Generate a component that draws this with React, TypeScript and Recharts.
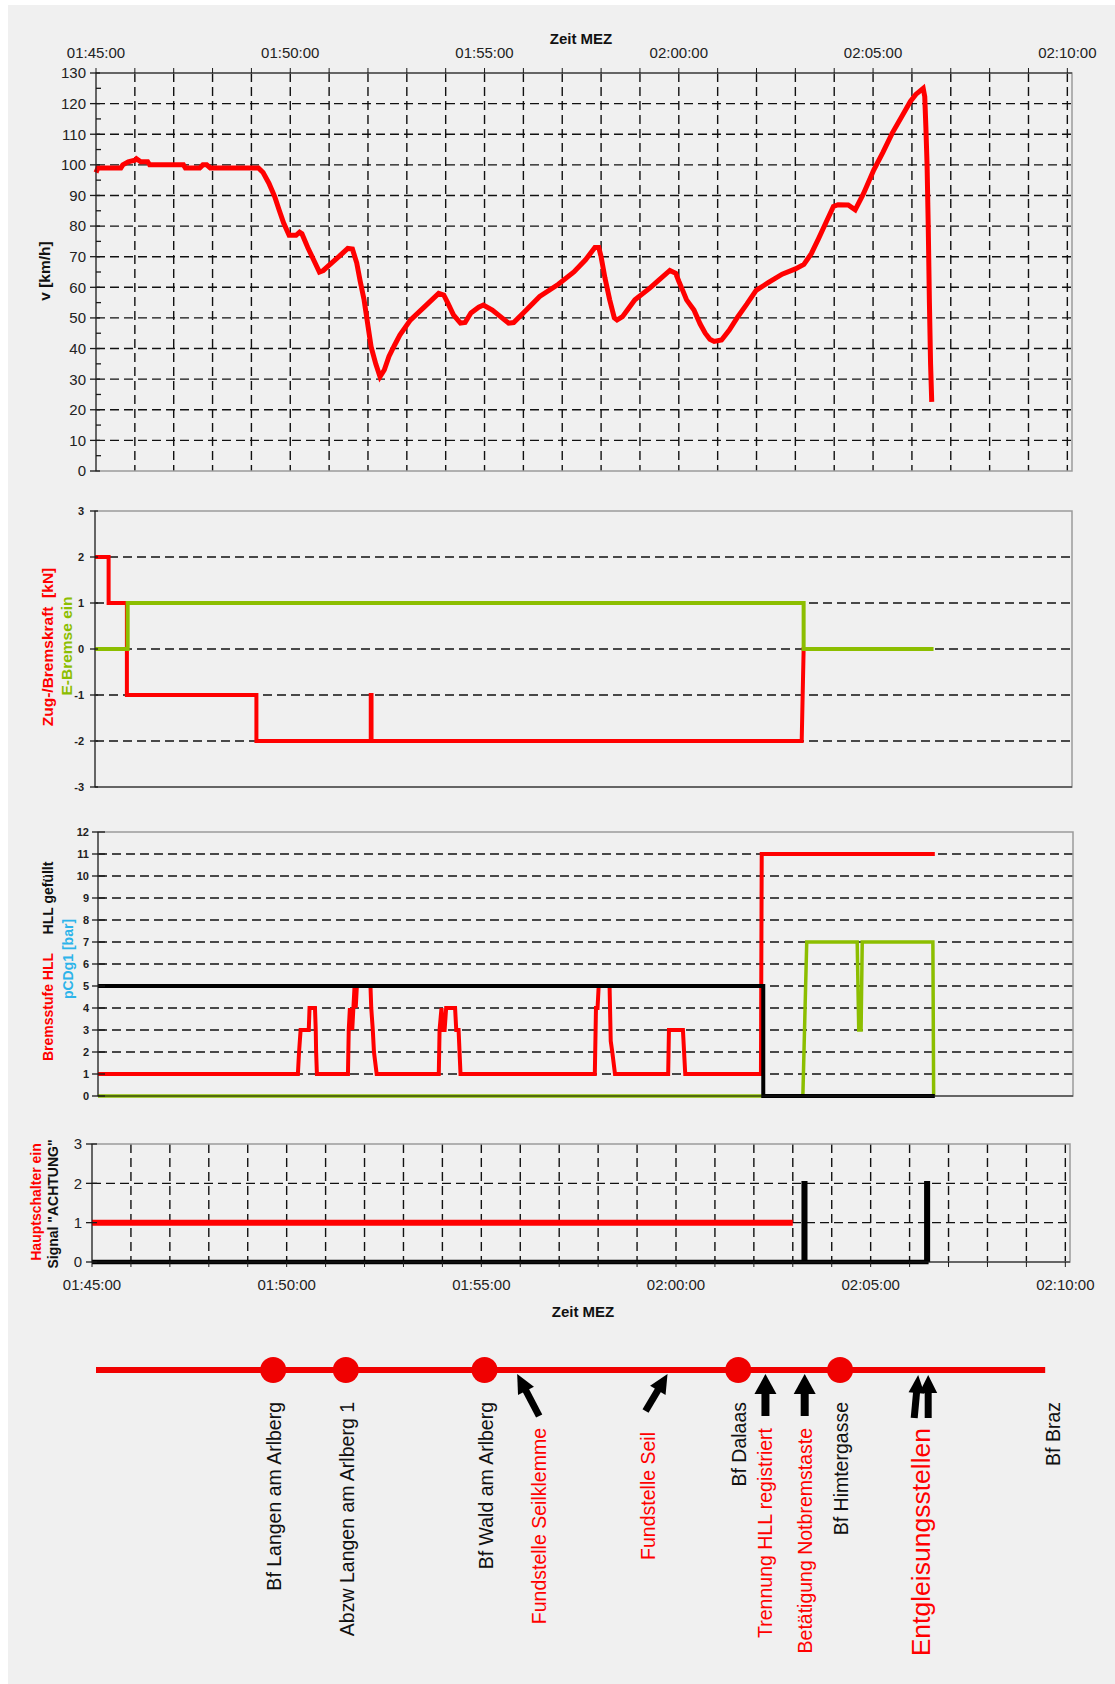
import React from 'react';
import {
  LineChart,
  Line,
  XAxis,
  YAxis,
  CartesianGrid,
  ReferenceArea,
  ComposedChart,
  Scatter,
} from 'recharts';

const FONT = "'Liberation Sans', Arial, Helvetica, sans-serif";
const RED = '#ff0000';
const ROUTE_RED = '#f00000';
const GREEN = '#8cbe00';
const CYAN = '#2db4ea';
const INK = '#1a1a1a';
const X_END = 25.12; // minutes after 01:45:00

// axes
const minuteTicks = [0, 1, 2, 3, 4, 5, 6, 7, 8, 9, 10, 11, 12, 13, 14, 15, 16, 17, 18, 19, 20, 21, 22, 23, 24, 25];
const minuteGrid = [1, 2, 3, 4, 5, 6, 7, 8, 9, 10, 11, 12, 13, 14, 15, 16, 17, 18, 19, 20, 21, 22, 23, 24, 25];
const timeLabels = ['01:45:00', '01:50:00', '01:55:00', '02:00:00', '02:05:00', '02:10:00'];
const speedTicks = [0, 5, 10, 15, 20, 25, 30, 35, 40, 45, 50, 55, 60, 65, 70, 75, 80, 85, 90, 95, 100, 105, 110, 115, 120, 125, 130];
const speedGrid = [10, 20, 30, 40, 50, 60, 70, 80, 90, 100, 110, 120];
const forceTicks = [-3, -2, -1, 0, 1, 2, 3];
const forceGrid = [-2, -1, 0, 1, 2];
const brakeTicks = [0, 1, 2, 3, 4, 5, 6, 7, 8, 9, 10, 11, 12];
const brakeGrid = [1, 2, 3, 4, 5, 6, 7, 8, 9, 10, 11];
const switchTicks = [0, 1, 2, 3];
const switchGrid = [1, 2];

// v [km/h]  (t in minutes after 01:45:00, value)
const speed = [
  [0, 97.5], [0.05, 99], [0.64, 99], [0.69, 100], [0.83, 101], [1.0, 101.5], [1.04, 102], [1.15, 101],
  [1.33, 101], [1.38, 100], [2.25, 100], [2.3, 99], [2.67, 99], [2.75, 100], [2.85, 100], [2.94, 99],
  [4.18, 99], [4.3, 97.5], [4.45, 94], [4.6, 89.6], [4.72, 85], [4.83, 81], [4.97, 77], [5.15, 77],
  [5.24, 78], [5.3, 77.5], [5.45, 73], [5.6, 69], [5.75, 65], [5.85, 65.5], [5.98, 67], [6.25, 70],
  [6.48, 72.7], [6.6, 72.5], [6.71, 68], [6.8, 62], [6.9, 55.9], [7.08, 40.6], [7.2, 35], [7.31, 30.8],
  [7.42, 33], [7.54, 37.4], [7.68, 41], [7.82, 44.4], [8.09, 49.3], [8.46, 53.7], [8.82, 58], [8.95, 57.5],
  [9.05, 55], [9.2, 51], [9.38, 48.3], [9.5, 48.5], [9.65, 51.6], [9.85, 53.5], [9.97, 54.2], [10.2, 52.6],
  [10.45, 50], [10.62, 48.3], [10.75, 48.5], [11.03, 52], [11.42, 57], [11.9, 61], [12.3, 65], [12.6, 69],
  [12.84, 73], [12.94, 73], [13.0, 70], [13.1, 63], [13.22, 56], [13.34, 50], [13.41, 49.3], [13.55, 50.4],
  [13.7, 53], [13.87, 55.9], [14.26, 59.8], [14.5, 62.5], [14.77, 65.5], [14.92, 64.6], [15.0, 62],
  [15.1, 59], [15.2, 55.9], [15.39, 52.6], [15.55, 48], [15.68, 45], [15.8, 43], [15.91, 42.3], [16.1, 42.8],
  [16.3, 46], [16.52, 50.4], [16.75, 54.5], [16.99, 59], [17.3, 61.5], [17.66, 64.3], [18.0, 66],
  [18.22, 67.5], [18.41, 71], [18.6, 76], [18.8, 81.5], [18.98, 86.4], [19.1, 87], [19.36, 86.9],
  [19.54, 85.3], [19.75, 90.5], [20.02, 98.4], [20.25, 104], [20.49, 110.3], [20.75, 116], [20.96, 120.7],
  [21.1, 123], [21.29, 125], [21.33, 122.3], [21.36, 112], [21.39, 100], [21.42, 80], [21.45, 55],
  [21.48, 35], [21.51, 22.6],
];

// Zug-/Bremskraft [kN] and E-Bremse ein
const force = [
  [0, 2], [0.35, 2], [0.35, 1], [0.82, 1], [0.82, -1], [4.15, -1], [4.15, -2], [7.09, -2], [7.09, -1],
  [7.11, -1], [7.11, -2], [18.17, -2], [18.22, 0], [18.5, 0],
];
const eBrake = [[0, 0], [0.84, 0], [0.84, 1], [18.22, 1], [18.22, 0], [21.56, 0]];

// Bremsstufe HLL, HLL gefüllt, pCDg1 [bar]
const brakeStep = [
  [0, 1], [5.15, 1], [5.18, 2], [5.22, 3], [5.43, 3], [5.45, 4], [5.59, 4], [5.61, 3], [5.62, 2], [5.64, 1],
  [6.44, 1], [6.46, 3], [6.49, 4], [6.55, 3], [6.58, 4], [6.61, 5], [6.64, 4], [6.67, 5], [7.02, 5],
  [7.04, 4], [7.08, 3], [7.11, 2], [7.18, 1], [8.78, 1], [8.8, 3], [8.85, 4], [8.88, 3], [8.93, 3],
  [8.97, 4], [9.2, 4], [9.23, 3], [9.29, 3], [9.34, 1], [12.8, 1], [12.83, 4], [12.87, 4], [12.9, 5],
  [13.18, 5], [13.21, 2.5], [13.25, 2], [13.32, 1], [14.69, 1], [14.71, 3], [15.07, 3], [15.13, 1],
  [17.08, 1], [17.1, 11], [21.56, 11],
];
const hllFilled = [[0, 5], [17.14, 5], [17.14, 0], [21.56, 0]];
const pcdg1 = [
  [0, 0], [18.16, 0], [18.26, 7], [19.56, 7], [19.6, 3], [19.66, 3], [19.69, 7], [21.51, 7], [21.53, 0],
];

// Hauptschalter ein, Signal "ACHTUNG"
const mainSwitch = [[0, 1], [18.0, 1]];
const signalAchtung = [
  [0, 0], [18.28, 0], [18.28, 2], [18.32, 2], [18.32, 0], [21.43, 0], [21.43, 2], [21.47, 2], [21.47, 0],
];

// route sketch
const routeEnd = 24.43;
const route = [[0, 0], [routeEnd, 0]];
const stationNames = ['Bf Langen am Arlberg', 'Abzw Langen am Arlberg 1', 'Bf Wald am Arlberg', 'Bf Dalaas', 'Bf Himtergasse', 'Bf Braz'];
const stationAt = [4.56, 6.43, 10.0, 16.53, 19.15, 24.6];
const eventNames = ['Fundstelle Seilklemme', 'Fundstelle Seil', 'Trennung HLL registriert', 'Betätigung Notbremstaste', 'Entgleisungsstellen'];
const eventAt = [10.84, 14.71, 17.23, 18.24, 21.29];
const eventArrow = ['upLeft', 'upRight', 'up', 'up', 'double'];

const pts = (a: number[][]) => a.map(([t, v]) => ({ t, v }));
const fmtTime = (t: number) => (t % 5 === 0 ? timeLabels[t / 5] : '');

function yTick(fontSize: number, weight: string, labelEvery: number, out: number, inn: number, gap: number) {
  return (p: any) => {
    const v = p.payload.value;
    const ax = p.x + 10; // tickSize 6 + tickMargin 4
    const major = Math.abs(v % labelEvery) < 1e-9;
    return (
      <g>
        <line x1={major ? ax - out : ax} x2={ax + (major ? inn : 5)} y1={p.y} y2={p.y} stroke={INK} strokeWidth={1.3} />
        {major && (
          <text x={ax - gap} y={p.y} dy="0.36em" textAnchor="end" fontSize={fontSize} fontWeight={weight} fill="#222" fontFamily={FONT}>
            {v}
          </text>
        )}
      </g>
    );
  };
}

function Panel(props: any) {
  const { top, height, marginTop, marginBottom = 0, left, right, yDomain, yTicks, yGrid, tick, xTop = false, xLabels = false, xHeight, children } = props;
  return (
    <div style={{ position: 'absolute', left: 0, top }}>
      <LineChart width={1115} height={height} margin={{ top: marginTop, right: 1115 - right, left: 0, bottom: marginBottom }}>
        <CartesianGrid stroke="#111" strokeWidth={1.4} strokeDasharray="9 5" horizontalValues={yGrid} verticalValues={minuteGrid} />
        <ReferenceArea x1={0} x2={X_END} y1={yDomain[0]} y2={yDomain[1]} fill="none" stroke="#9a9a9a" strokeWidth={1.5} />
        <XAxis
          type="number"
          dataKey="t"
          domain={[0, X_END]}
          ticks={minuteTicks}
          interval={0}
          orientation={xTop ? 'top' : 'bottom'}
          height={xHeight}
          stroke={INK}
          tickSize={5}
          tickMargin={xLabels ? (xTop ? 10 : 12) : 0}
          tick={xLabels ? { fontSize: 15, fill: '#222', fontFamily: FONT } : false}
          tickFormatter={fmtTime}
        />
        <YAxis type="number" domain={yDomain} ticks={yTicks} interval={0} width={left} stroke={INK} tickLine={false} tickSize={6} tickMargin={4} tick={tick} />
        {children}
      </LineChart>
    </div>
  );
}

const VLabel = ({ x, y, color, size, children }: any) => (
  <div
    style={{
      position: 'absolute',
      left: x,
      top: y,
      transform: 'translate(-50%, -50%) rotate(-90deg)',
      whiteSpace: 'pre',
      color,
      fontSize: size,
      fontWeight: 'bold',
      fontFamily: FONT,
      lineHeight: 1,
    }}
  >
    {children}
  </div>
);

const HLabel = ({ x, y, children }: any) => (
  <div
    style={{
      position: 'absolute',
      left: x,
      top: y,
      transform: 'translate(-50%, -50%)',
      whiteSpace: 'nowrap',
      color: '#111',
      fontSize: 15,
      fontWeight: 'bold',
      fontFamily: FONT,
      lineHeight: 1,
    }}
  >
    {children}
  </div>
);

function arrow(x1: number, y1: number, x2: number, y2: number, head: number, half: number, w: number, key: string) {
  const dx = x2 - x1;
  const dy = y2 - y1;
  const L = Math.hypot(dx, dy);
  const ux = dx / L;
  const uy = dy / L;
  const nx = -uy;
  const ny = ux;
  const bx = x2 - ux * head;
  const by = y2 - uy * head;
  return (
    <g key={key}>
      <line x1={x1} y1={y1} x2={bx + ux} y2={by + uy} stroke="#000" strokeWidth={w} />
      <polygon points={`${x2},${y2} ${bx + nx * half},${by + ny * half} ${bx - nx * half},${by - ny * half}`} fill="#000" />
    </g>
  );
}

const StationMark = (p: any) => {
  const { cx, cy, payload } = p;
  return (
    <g>
      {payload.t < routeEnd && <circle cx={cx} cy={cy} r={13} fill={ROUTE_RED} />}
      <text
        transform={`translate(${cx + 1},${cy + 32}) rotate(-90)`}
        textAnchor="end"
        dominantBaseline="central"
        fontSize={19.5}
        fill="#111"
        fontFamily={FONT}
      >
        {payload.name}
      </text>
    </g>
  );
};

const EventMark = (p: any) => {
  const { cx, cy, payload } = p;
  const tip = cy + 4;
  let marks: any[] = [];
  let lx = cx;
  let ly = cy + 58;
  let size = 19.5;
  if (payload.kind === 'upLeft') {
    marks = [arrow(cx + 22, cy + 46, cx, tip, 19, 9, 7, 'a')];
    lx = cx + 22;
  } else if (payload.kind === 'upRight') {
    marks = [arrow(cx - 22, cy + 41, cx, tip, 19, 9, 7, 'a')];
    lx = cx - 20;
    ly = cy + 62;
  } else if (payload.kind === 'up') {
    marks = [arrow(cx, cy + 46, cx, tip, 20, 11, 8, 'a')];
  } else {
    marks = [arrow(cx - 9, cy + 48, cx - 5, tip + 1, 18, 8, 7, 'a'), arrow(cx + 5, cy + 48, cx + 5, tip + 1, 18, 9, 7, 'b')];
    lx = cx - 2;
    size = 26.5;
  }
  return (
    <g>
      {marks}
      <text
        transform={`translate(${lx},${ly}) rotate(-90)`}
        textAnchor="end"
        dominantBaseline="central"
        fontSize={size}
        fill={RED}
        fontFamily={FONT}
      >
        {payload.name}
      </text>
    </g>
  );
};

export default function App() {
  const stations = stationNames.map((name, i) => ({ t: stationAt[i], v: 0, name }));
  const events = eventNames.map((name, i) => ({ t: eventAt[i], v: 0, name, kind: eventArrow[i] }));

  return (
    <div style={{ position: 'absolute', left: 0, top: 0, width: 1115, height: 1684, background: '#fff', overflow: 'hidden', fontFamily: FONT }}>
      <div style={{ position: 'absolute', left: 8, top: 5, right: 0, bottom: 0, background: '#f0f0f0' }} />

      {/* speed */}
      <Panel top={0} height={480} marginTop={43} marginBottom={9} left={96} right={1072} yDomain={[0, 130]} yTicks={speedTicks} yGrid={speedGrid}
        tick={yTick(15, 'normal', 10, 6, 4, 10)} xTop xLabels xHeight={30}>
        <Line data={pts(speed)} dataKey="v" type="linear" stroke={RED} strokeWidth={5} dot={false} isAnimationActive={false} />
      </Panel>
      <HLabel x={581} y={38}>Zeit MEZ</HLabel>
      <VLabel x={45} y={271} color="#111" size={15.5}>v [km/h]</VLabel>

      {/* force */}
      <Panel top={490} height={307} marginTop={21} left={95} right={1072} yDomain={[-3, 3]} yTicks={forceTicks} yGrid={forceGrid}
        tick={yTick(11, 'bold', 1, 5, 3, 11)} xHeight={10}>
        <Line data={pts(force)} dataKey="v" type="linear" stroke={RED} strokeWidth={4} dot={false} isAnimationActive={false} />
        <Line data={pts(eBrake)} dataKey="v" type="linear" stroke={GREEN} strokeWidth={4} dot={false} isAnimationActive={false} />
      </Panel>
      <VLabel x={48} y={647} color={RED} size={15.5}>{'Zug-/Bremskraft  [kN]'}</VLabel>
      <VLabel x={67} y={646} color={GREEN} size={15.5}>E-Bremse ein</VLabel>

      {/* brake step / HLL */}
      <Panel top={810} height={296} marginTop={22} left={98} right={1073} yDomain={[0, 12]} yTicks={brakeTicks} yGrid={brakeGrid}
        tick={yTick(11, 'bold', 1, 6, 7, 9)} xHeight={10}>
        <Line data={pts(pcdg1)} dataKey="v" type="linear" stroke={GREEN} strokeWidth={3.5} dot={false} isAnimationActive={false} />
        <Line data={pts(brakeStep)} dataKey="v" type="linear" stroke={RED} strokeWidth={4} dot={false} isAnimationActive={false} />
        <Line data={pts(hllFilled)} dataKey="v" type="linear" stroke="#000" strokeWidth={4} dot={false} isAnimationActive={false} />
      </Panel>
      <VLabel x={48} y={898} color="#111" size={14}>HLL gefüllt</VLabel>
      <VLabel x={48} y={1007} color={RED} size={14}>Bremsstufe HLL</VLabel>
      <VLabel x={68} y={959} color={CYAN} size={14}>pCDg1 [bar]</VLabel>

      {/* main switch / signal */}
      <Panel top={1120} height={202} marginTop={24} left={92} right={1070} yDomain={[0, 3]} yTicks={switchTicks} yGrid={switchGrid}
        tick={yTick(15, 'normal', 1, 6, 5, 10)} xLabels xHeight={60}>
        <Line data={pts(mainSwitch)} dataKey="v" type="linear" stroke={RED} strokeWidth={6} dot={false} isAnimationActive={false} />
        <Line data={pts(signalAchtung)} dataKey="v" type="linear" stroke="#000" strokeWidth={4.5} dot={false} isAnimationActive={false} />
      </Panel>
      <HLabel x={583} y={1311}>Zeit MEZ</HLabel>
      <VLabel x={36} y={1202} color={RED} size={14}>Hauptschalter ein</VLabel>
      <VLabel x={53} y={1204} color="#111" size={14}>{'Signal "ACHTUNG"'}</VLabel>

      {/* route sketch */}
      <div style={{ position: 'absolute', left: 0, top: 1320 }}>
        <ComposedChart width={1115} height={364} margin={{ top: 50, right: 43, left: 96, bottom: 0 }}>
          <XAxis type="number" dataKey="t" domain={[0, X_END]} hide />
          <YAxis type="number" domain={[0, 1]} reversed hide />
          <Line data={pts(route)} dataKey="v" type="linear" stroke={ROUTE_RED} strokeWidth={6} dot={false} isAnimationActive={false} />
          <Scatter data={events} dataKey="v" shape={EventMark} isAnimationActive={false} />
          <Scatter data={stations} dataKey="v" shape={StationMark} isAnimationActive={false} />
        </ComposedChart>
      </div>
    </div>
  );
}
